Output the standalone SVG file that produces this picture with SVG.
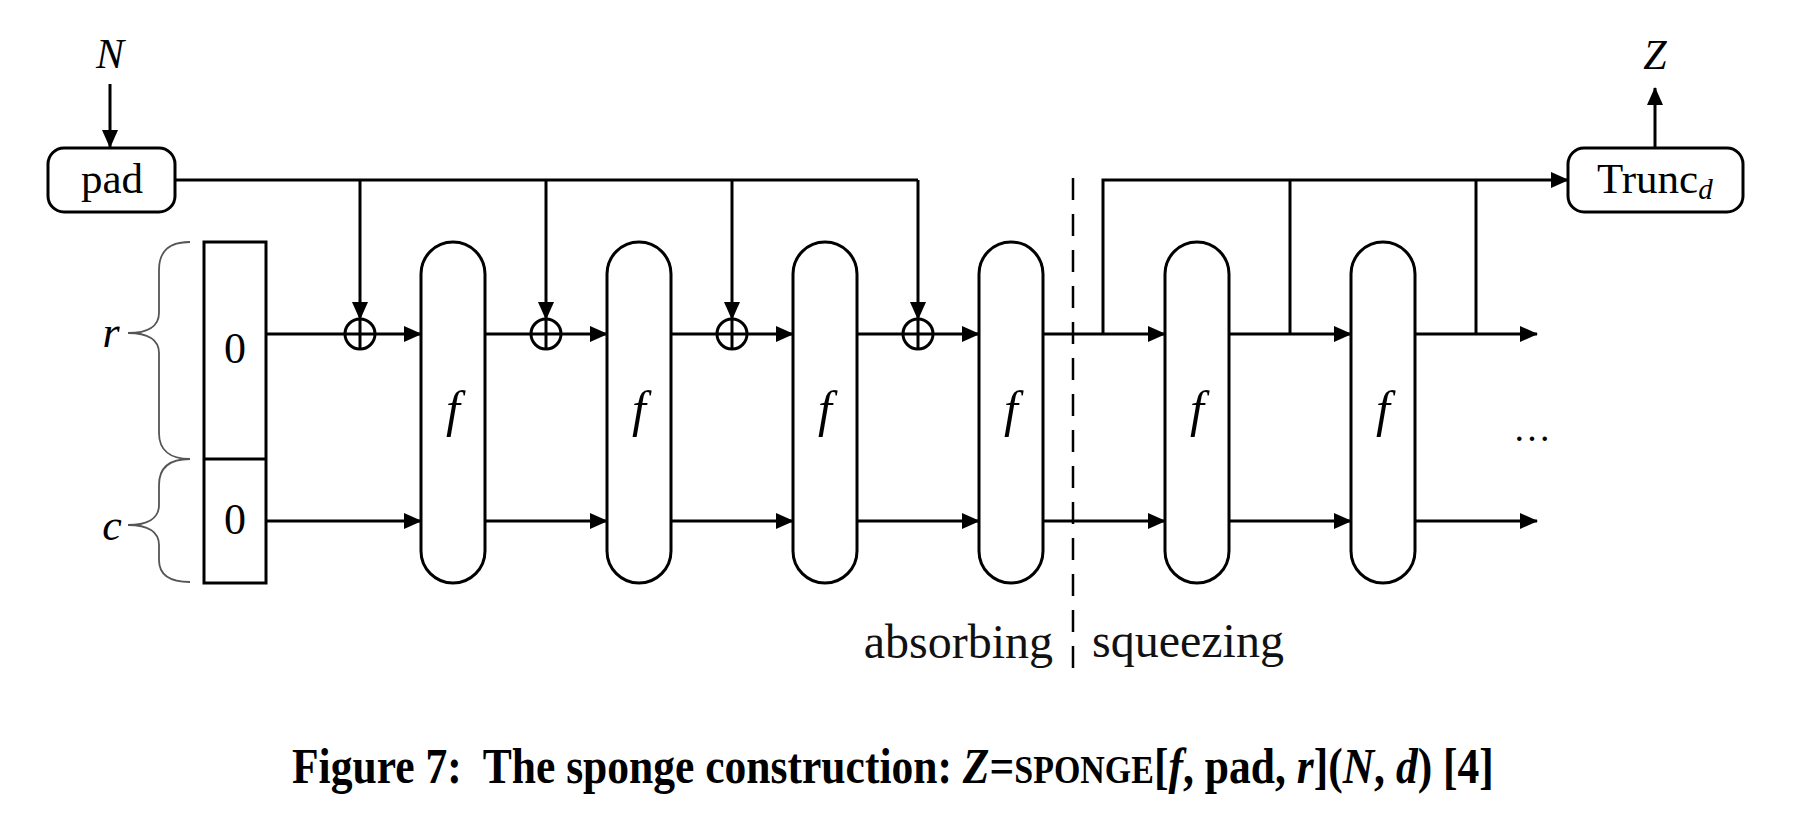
<svg xmlns="http://www.w3.org/2000/svg" width="1814" height="832" viewBox="0 0 1814 832">
<style>
.ln{stroke:#000;stroke-width:3;fill:none}
.box{stroke:#000;stroke-width:3;fill:#fff}
.br{stroke:#555;stroke-width:1.8;fill:none}
.t{font-family:"Liberation Serif",serif;fill:#000}
.i{font-style:italic}
.lab{font-family:"Liberation Serif",serif;fill:#111}
</style>
<defs>
<marker id="ah" markerWidth="18" markerHeight="16" refX="17" refY="8" orient="auto" markerUnits="userSpaceOnUse">
<path d="M0,0 L18,8 L0,16 Z" fill="#000"/>
</marker>
</defs>
<rect width="1814" height="832" fill="#fff"/>

<g id="connectors">
<line class="ln" x1="110" y1="84" x2="110" y2="147" marker-end="url(#ah)"/>
<line class="ln" x1="175" y1="180" x2="918" y2="180"/>
<line class="ln" x1="360" y1="180" x2="360" y2="319" marker-end="url(#ah)"/>
<line class="ln" x1="546" y1="180" x2="546" y2="319" marker-end="url(#ah)"/>
<line class="ln" x1="732" y1="180" x2="732" y2="319" marker-end="url(#ah)"/>
<line class="ln" x1="918" y1="180" x2="918" y2="319" marker-end="url(#ah)"/>
<line class="ln" x1="266" y1="334" x2="421" y2="334" marker-end="url(#ah)"/>
<line class="ln" x1="485" y1="334" x2="607" y2="334" marker-end="url(#ah)"/>
<line class="ln" x1="671" y1="334" x2="793" y2="334" marker-end="url(#ah)"/>
<line class="ln" x1="857" y1="334" x2="979" y2="334" marker-end="url(#ah)"/>
<line class="ln" x1="1043" y1="334" x2="1165" y2="334" marker-end="url(#ah)"/>
<line class="ln" x1="1229" y1="334" x2="1351" y2="334" marker-end="url(#ah)"/>
<line class="ln" x1="1415" y1="334" x2="1537" y2="334" marker-end="url(#ah)"/>
<line class="ln" x1="266" y1="521" x2="421" y2="521" marker-end="url(#ah)"/>
<line class="ln" x1="485" y1="521" x2="607" y2="521" marker-end="url(#ah)"/>
<line class="ln" x1="671" y1="521" x2="793" y2="521" marker-end="url(#ah)"/>
<line class="ln" x1="857" y1="521" x2="979" y2="521" marker-end="url(#ah)"/>
<line class="ln" x1="1043" y1="521" x2="1165" y2="521" marker-end="url(#ah)"/>
<line class="ln" x1="1229" y1="521" x2="1351" y2="521" marker-end="url(#ah)"/>
<line class="ln" x1="1415" y1="521" x2="1537" y2="521" marker-end="url(#ah)"/>
<polyline class="ln" points="1103,334 1103,180 1568,180" marker-end="url(#ah)"/>
<line class="ln" x1="1290" y1="334" x2="1290" y2="180"/>
<line class="ln" x1="1476" y1="334" x2="1476" y2="180"/>
<line class="ln" x1="1655" y1="148" x2="1655" y2="88" marker-end="url(#ah)"/>
<line x1="1073" y1="178" x2="1073" y2="677" stroke="#000" stroke-width="2.5" stroke-dasharray="22 14"/>
</g>

<g id="xor1"><circle class="ln" cx="360" cy="334" r="15"/><line class="ln" x1="360" y1="319" x2="360" y2="349"/></g>
<g id="xor2"><circle class="ln" cx="546" cy="334" r="15"/><line class="ln" x1="546" y1="319" x2="546" y2="349"/></g>
<g id="xor3"><circle class="ln" cx="732" cy="334" r="15"/><line class="ln" x1="732" y1="319" x2="732" y2="349"/></g>
<g id="xor4"><circle class="ln" cx="918" cy="334" r="15"/><line class="ln" x1="918" y1="319" x2="918" y2="349"/></g>

<g id="pad">
<rect class="box" x="48" y="148" width="127" height="64" rx="16"/>
<text class="t" x="112" y="193" font-size="43" text-anchor="middle">pad</text>
</g>
<text id="N" class="t i" x="110" y="68" font-size="42" text-anchor="middle">N</text>

<g id="trunc">
<rect class="box" x="1568" y="148" width="175" height="64" rx="16"/>
<text class="t" x="1597" y="193" font-size="43">Trunc<tspan class="i" font-size="29" dy="6">d</tspan></text>
</g>
<text id="Z" class="t i" x="1655" y="69" font-size="42" text-anchor="middle">Z</text>

<g id="state">
<rect class="box" x="204" y="242" width="62" height="341"/>
<line class="ln" x1="204" y1="459" x2="266" y2="459"/>
<text class="t" x="235" y="363" font-size="44" text-anchor="middle">0</text>
<text class="t" x="235" y="534" font-size="44" text-anchor="middle">0</text>
<path class="br" d="M190,242 C170,242 159,250 159,270 L159,313 C159,326 148,333 128,333 C148,333 159,340 159,353 L159,433 C159,450 170,459 190,459"/>
<path class="br" d="M190,459 C170,459 159,467 159,485 L159,505 C159,518 148,525 128,525 C148,525 159,532 159,545 L159,560 C159,575 170,582 190,582"/>
<text class="t i" x="111" y="347" font-size="44" text-anchor="middle">r</text>
<text class="t i" x="112" y="540" font-size="44" text-anchor="middle">c</text>
</g>

<g id="f1"><rect class="box" x="421" y="242" width="64" height="341" rx="32"/><text class="t i" x="453" y="426" font-size="50" text-anchor="middle">f</text></g>
<g id="f2"><rect class="box" x="607" y="242" width="64" height="341" rx="32"/><text class="t i" x="639" y="426" font-size="50" text-anchor="middle">f</text></g>
<g id="f3"><rect class="box" x="793" y="242" width="64" height="341" rx="32"/><text class="t i" x="825" y="426" font-size="50" text-anchor="middle">f</text></g>
<g id="f4"><rect class="box" x="979" y="242" width="64" height="341" rx="32"/><text class="t i" x="1011" y="426" font-size="50" text-anchor="middle">f</text></g>
<g id="f5"><rect class="box" x="1165" y="242" width="64" height="341" rx="32"/><text class="t i" x="1197" y="426" font-size="50" text-anchor="middle">f</text></g>
<g id="f6"><rect class="box" x="1351" y="242" width="64" height="341" rx="32"/><text class="t i" x="1383" y="426" font-size="50" text-anchor="middle">f</text></g>

<text id="dots" class="t" x="1532" y="441" font-size="38" text-anchor="middle">…</text>

<text id="absorbing" class="lab" x="1053" y="658" font-size="48" text-anchor="end">absorbing</text>
<text id="squeezing" class="lab" x="1092" y="657" font-size="48">squeezing</text>

<text id="caption" class="t" transform="translate(292,783) scale(0.871,1)" x="0" y="0" font-size="50" font-weight="bold" xml:space="preserve">Figure 7:  The sponge construction: <tspan class="i">Z</tspan>=<tspan font-size="39">SPONGE</tspan>[<tspan class="i">f</tspan>, pad, <tspan class="i">r</tspan>](<tspan class="i">N</tspan>, <tspan class="i">d</tspan>) [4]</text>
</svg>
